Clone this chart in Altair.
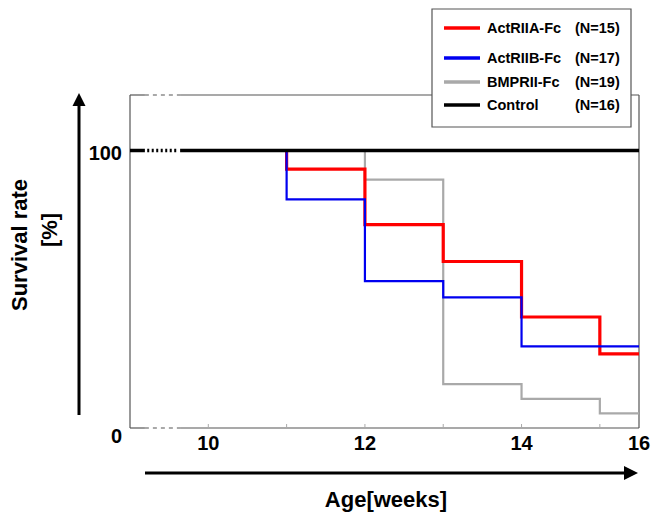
import altair as alt
import pandas as pd

FONT = "Liberation Sans"

# ---------------- data ----------------
red_weeks = [11, 11, 12, 13, 14, 15, 15.5]
red_surv = [100, 93.3, 73.3, 60.0, 40.0, 26.7, 26.7]

blue_weeks = [11, 11, 12, 13, 14, 15.5]
blue_surv = [100, 82.4, 52.9, 47.1, 29.4, 29.4]

gray_weeks = [12, 12, 13, 14, 15, 15.5]
gray_surv = [100, 89.5, 15.8, 10.5, 5.3, 5.3]

control_weeks = [9.64, 15.5]
control_surv = [100, 100]

series_names = ["ActRIIA-Fc", "ActRIIB-Fc", "BMPRII-Fc", "Control"]
series_n = ["(N=15)", "(N=17)", "(N=19)", "(N=16)"]
series_colors = ["#ff0000", "#0000f0", "#a9a9a9", "#000000"]

x_tick_weeks = [10, 11, 12, 13, 14, 15]
x_label_values = [10, 12, 14, 15.5]
x_label_texts = ["10", "12", "14", "16"]
y_label_values = [0, 100]

X_MIN, X_MAX = 9, 15.5
BREAK = [9.19, 9.64]

# ---------------- scales ----------------
xscale = alt.Scale(domain=[X_MIN, X_MAX], nice=False, zero=False)
yscale = alt.Scale(domain=[0, 120], nice=False, zero=False)
one = pd.DataFrame({"a": [0]})


def step_layer(weeks, surv, color, width):
    df = pd.DataFrame({"week": weeks, "surv": surv, "i": list(range(len(weeks)))})
    return alt.Chart(df).mark_line(
        interpolate="step-after", color=color, strokeWidth=width, clip=True
    ).encode(
        x=alt.X("week:Q", scale=xscale, axis=None),
        y=alt.Y("surv:Q", scale=yscale, axis=None),
        order="i:Q",
    )


def hseg(x0, x1, yv, color, width, dash=None):
    df = pd.DataFrame({"x0": [x0], "x1": [x1], "y": [yv]})
    kw = dict(color=color, strokeWidth=width)
    if dash:
        kw["strokeDash"] = dash
    return alt.Chart(df).mark_rule(**kw).encode(
        x=alt.X("x0:Q", scale=xscale, axis=None),
        x2="x1:Q",
        y=alt.Y("y:Q", scale=yscale, axis=None),
    )


layers = []

# frame (with axis break)
frame_col = "#555555"
for yv in [0, 120]:
    layers.append(hseg(X_MIN, BREAK[0], yv, frame_col, 1.2))
    layers.append(hseg(BREAK[0], BREAK[1], yv, frame_col, 1.2, [4, 4]))
    layers.append(hseg(BREAK[1], X_MAX, yv, frame_col, 1.2))
for xv in [X_MIN, X_MAX]:
    df = pd.DataFrame({"x": [xv], "y0": [0], "y1": [120]})
    layers.append(
        alt.Chart(df).mark_rule(color=frame_col, strokeWidth=1.2).encode(
            x=alt.X("x:Q", scale=xscale, axis=None),
            y=alt.Y("y0:Q", scale=yscale, axis=None),
            y2="y1:Q",
        )
    )

# small inner ticks
tick_df = pd.DataFrame({"week": x_tick_weeks})
layers.append(
    alt.Chart(tick_df).mark_rule(color="#aaaaaa", strokeWidth=1).encode(
        x=alt.X("week:Q", scale=xscale, axis=None),
        y=alt.value(333),
        y2=alt.value(329),
    )
)

# x tick labels
xl_df = pd.DataFrame({"week": x_label_values, "t": x_label_texts})
layers.append(
    alt.Chart(xl_df).mark_text(
        align="center", baseline="middle", font=FONT, fontSize=20,
        fontWeight="bold", color="black",
    ).encode(
        x=alt.X("week:Q", scale=xscale, axis=None),
        y=alt.value(349),
        text="t:N",
    )
)

# survival curves
layers.append(step_layer(gray_weeks, gray_surv, series_colors[2], 2.2))
layers.append(step_layer(red_weeks, red_surv, series_colors[0], 3.2))
layers.append(step_layer(blue_weeks, blue_surv, series_colors[1], 2.2))

# control line with break
layers.append(hseg(X_MIN, BREAK[0], 100, "black", 3.5))
layers.append(hseg(BREAK[0] + 0.03, BREAK[1] - 0.02, 100, "black", 3.5, [2, 2.5]))
layers.append(step_layer(control_weeks, control_surv, series_colors[3], 3.5))

# y labels
for v, dy in zip(y_label_values, [9, 3]):
    df = pd.DataFrame({"y": [v], "t": [str(v)]})
    layers.append(
        alt.Chart(df).mark_text(
            align="right", baseline="middle", font=FONT, fontSize=20,
            fontWeight="bold", color="black", dy=dy,
        ).encode(
            x=alt.value(-8),
            y=alt.Y("y:Q", scale=yscale, axis=None),
            text="t:N",
        )
    )

# axis arrows
layers.append(
    alt.Chart(one).mark_rule(color="black", strokeWidth=3).encode(
        x=alt.value(-51), y=alt.value(8), y2=alt.value(320)
    )
)
layers.append(
    alt.Chart(one).mark_point(
        shape="M0,-1L1,1L-1,1Z", size=169, filled=True, color="black", opacity=1, strokeWidth=0
    ).encode(x=alt.value(-51), y=alt.value(4.5))
)
layers.append(
    alt.Chart(one).mark_rule(color="black", strokeWidth=3).encode(
        x=alt.value(15), x2=alt.value(497), y=alt.value(378)
    )
)
layers.append(
    alt.Chart(one).mark_point(
        shape="M1,0L-1,-1L-1,1Z", size=196, filled=True, color="black", opacity=1, strokeWidth=0
    ).encode(x=alt.value(501), y=alt.value(378))
)


# titles
def label(txt, x, y, size, angle=0, align="center", baseline="middle"):
    return alt.Chart(one).mark_text(
        text=txt, font=FONT, fontSize=size, fontWeight="bold", color="black",
        angle=angle, align=align, baseline=baseline,
    ).encode(x=alt.value(x), y=alt.value(y))


layers.append(label("Survival rate", -110, 150, 22, angle=270))
layers.append(label("[%]", -80, 135, 22, angle=270))
layers.append(label("Age[weeks]", 256, 412, 22, baseline="alphabetic"))

# legend box
layers.append(
    alt.Chart(one).mark_rect(fill="white", stroke="#555555", strokeWidth=1.2).encode(
        x=alt.value(302), x2=alt.value(501), y=alt.value(-86), y2=alt.value(32)
    )
)
row_y = [-67, -37, -13, 10]
for name, n, col, ry in zip(series_names, series_n, series_colors, row_y):
    layers.append(
        alt.Chart(one).mark_rule(color=col, strokeWidth=3.5).encode(
            x=alt.value(314), x2=alt.value(350), y=alt.value(ry)
        )
    )
    layers.append(label(name, 357, ry + 1, 14.5, align="left"))
    layers.append(label(n, 445, ry + 1, 14.5, align="left"))

chart = alt.layer(*layers).properties(
    width=509,
    height=333,
    autosize=alt.AutoSizeParams(type="none"),
    padding={"left": 122, "top": 87, "right": 12, "bottom": 86},
    background="white",
).configure_view(stroke=None)

chart.save("out.html", embed_options={"renderer": "svg", "actions": False})
